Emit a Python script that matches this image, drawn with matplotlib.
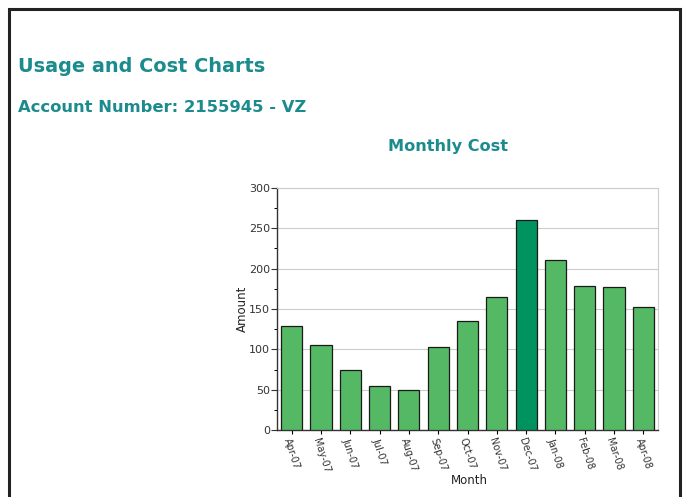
import matplotlib.pyplot as plt
from matplotlib.patches import Rectangle
from matplotlib.ticker import MultipleLocator

months = ["Apr-07", "May-07", "Jun-07", "Jul-07", "Aug-07", "Sep-07", "Oct-07",
          "Nov-07", "Dec-07", "Jan-08", "Feb-08", "Mar-08", "Apr-08"]
amounts = [129, 105, 74, 55, 50, 103, 135, 165, 260, 211, 178, 177, 153]
highlight = "Dec-07"

teal = "#1b8b8d"
bar_green = "#55b865"
dark_green = "#00935f"


def main():
    fig = plt.figure(figsize=(6.88, 4.97), dpi=100)

    # page frame
    fig.patches.append(Rectangle((9 / 688, -0.1), 671 / 688, 1.1 - 9 / 497,
                                 transform=fig.transFigure, fill=False,
                                 edgecolor="#222222", linewidth=2.2))

    fig.text(18 / 688, 1 - 67 / 497, "Usage and Cost Charts", color=teal,
             fontsize=13.9, fontweight="bold", va="center", ha="left")
    fig.text(18 / 688, 1 - 107 / 497, "Account Number: 2155945 - VZ", color=teal,
             fontsize=11.8, fontweight="bold", va="center", ha="left")
    fig.text(448 / 688, 1 - 147 / 497, "Monthly Cost", color=teal,
             fontsize=11.6, fontweight="bold", va="center", ha="center")

    ax = fig.add_axes([277 / 688, 1 - 430 / 497, 381 / 688, 242 / 497])
    colors = [dark_green if m == highlight else bar_green for m in months]
    ax.bar(range(len(months)), amounts, width=0.72, color=colors,
           edgecolor="#1a1a1a", linewidth=0.9, zorder=3)

    ax.set_xlim(-0.5, len(months) - 0.5)
    ax.set_ylim(0, 300)
    ax.yaxis.set_major_locator(MultipleLocator(50))
    ax.yaxis.set_minor_locator(MultipleLocator(25))
    ax.grid(axis="y", color="#cccccc", linewidth=0.8, zorder=0)

    ax.set_xticks(range(len(months)))
    ax.set_xticklabels(months, rotation=-72, ha="left", va="top",
                       rotation_mode="anchor", fontsize=7, color="#333333")
    ax.tick_params(axis="y", labelsize=8, colors="#333333", length=4, width=0.8, pad=1)
    ax.tick_params(axis="y", which="minor", length=2.5, width=0.7)
    ax.tick_params(axis="x", length=3, width=0.8, pad=2)

    for side in ["top", "right"]:
        ax.spines[side].set_color("#cccccc")
        ax.spines[side].set_linewidth(0.8)
    for side in ["left", "bottom"]:
        ax.spines[side].set_color("#333333")
        ax.spines[side].set_linewidth(1.0)

    ax.set_ylabel("Amount", fontsize=8.5, color="#222222", labelpad=0)
    fig.text(469 / 688, 1 - 481 / 497, "Month", fontsize=8.5, color="#222222",
             ha="center", va="center")

    fig.savefig("out.png", dpi=100)


if __name__ == "__main__":
    main()
